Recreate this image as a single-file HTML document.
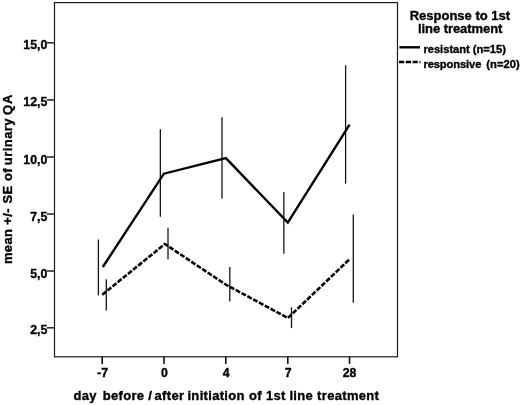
<!DOCTYPE html>
<html>
<head>
<meta charset="utf-8">
<title>Urinary QA by response to 1st line treatment</title>
<style>
html,body{margin:0;padding:0;background:#fff;}
body{width:520px;height:405px;overflow:hidden;}
svg{display:block;}
text{font-family:"Liberation Sans",sans-serif;font-weight:bold;fill:#000;stroke:#000;stroke-width:0.35px;stroke-linejoin:round;}
.tick{font-size:12.3px;}
.title{font-size:13px;}
.leg{font-size:11.2px;}
.ax{stroke:#1a1a1a;stroke-width:1.2;fill:none;}
.eb{stroke:#151515;stroke-width:1.3;fill:none;}
.ln{stroke:#000;stroke-width:2.4;fill:none;stroke-linejoin:miter;stroke-linecap:butt;}
</style>
</head>
<body>
<svg width="520" height="405" viewBox="0 0 520 405">
<rect x="0" y="0" width="520" height="405" fill="#ffffff"/>

<!-- plot frame -->
<rect class="ax" x="54.5" y="2.6" width="343" height="354.2"/>

<!-- y ticks -->
<g class="ax" style="stroke-width:1.45">
<line x1="47" y1="42.8" x2="54.5" y2="42.8"/>
<line x1="47" y1="99.9" x2="54.5" y2="99.9"/>
<line x1="47" y1="157.0" x2="54.5" y2="157.0"/>
<line x1="47" y1="214.0" x2="54.5" y2="214.0"/>
<line x1="47" y1="271.0" x2="54.5" y2="271.0"/>
<line x1="47" y1="327.8" x2="54.5" y2="327.8"/>
</g>
<g class="tick" text-anchor="end">
<text x="47.3" y="49.3">15,0</text>
<text x="47.3" y="106.4">12,5</text>
<text x="47.3" y="163.5">10,0</text>
<text x="47.3" y="220.5">7,5</text>
<text x="47.3" y="277.5">5,0</text>
<text x="47.3" y="334.3">2,5</text>
</g>

<!-- x ticks -->
<g class="ax" style="stroke-width:1.6;stroke:#111">
<line x1="102.2" y1="356.8" x2="102.2" y2="363.9"/>
<line x1="164" y1="356.8" x2="164" y2="363.9"/>
<line x1="225.8" y1="356.8" x2="225.8" y2="363.9"/>
<line x1="287.8" y1="356.8" x2="287.8" y2="363.9"/>
<line x1="349.5" y1="356.8" x2="349.5" y2="363.9"/>
</g>
<g class="tick" text-anchor="middle">
<text x="102.5" y="376.9">-7</text>
<text x="164.3" y="376.9">0</text>
<text x="226.1" y="376.9">4</text>
<text x="288.1" y="376.9">7</text>
<text x="349.6" y="376.9">28</text>
</g>

<!-- axis titles -->
<text class="title" x="73.5" y="400.3" style="letter-spacing:0.315px" dx="0 0 0 0 1.9 0 0 0 0 0 0 0 0 -1.6 0 0 0 0 0 -0.85 0 0 0 0 0 0 0 0 0 0 0.2 0 0 0.15 0 0 0 -0.3 0 0 0 0 0.1 0 0 0 0 0 0 0 0">day before / after initiation of 1st line treatment</text>
<text class="title" transform="translate(12.3 264.1) rotate(-90)" x="0" y="0" style="letter-spacing:0.345px" dx="0 0 0 0 0 0 0 0 0 0.8 0 0 0.3 0 0 -1.1 0.1 0.1 0.1 0.1 0.1 0.1 0 -0.9 0.6">mean +/- SE of urinary QA</text>

<!-- error bars: resistant -->
<g class="eb">
<line x1="98.4" y1="239.5" x2="98.4" y2="295.4"/>
<line x1="160.35" y1="129.2" x2="160.35" y2="216.8"/>
<line x1="222" y1="117.3" x2="222" y2="198.5"/>
<line x1="283.85" y1="191.9" x2="283.85" y2="253.8"/>
<line x1="345.6" y1="65.2" x2="345.6" y2="183.6"/>
</g>
<!-- error bars: responsive -->
<g class="eb">
<line x1="106.3" y1="279.2" x2="106.3" y2="310.6"/>
<line x1="168" y1="227.7" x2="168" y2="259.2"/>
<line x1="229.8" y1="267.1" x2="229.8" y2="301.5"/>
<line x1="291.5" y1="307.2" x2="291.5" y2="328.1"/>
<line x1="353.3" y1="214.6" x2="353.3" y2="302.8"/>
</g>

<!-- series -->
<polyline class="ln" points="102.8,267 163.9,173.7 225.9,158.1 287.8,222.6 349.6,124.6"/>
<polyline class="ln" style="stroke-width:2.6" stroke-dasharray="5 1.6" points="102.3,294.7 164.9,244.0 225.8,284.6 287.9,318.0 350.1,258.7"/>

<!-- legend -->
<text class="title" x="459.9" y="20" text-anchor="middle">Response to 1st</text>
<text class="title" x="418" y="32.5" textLength="84.4" lengthAdjust="spacing">line treatment</text>
<line class="ln" x1="399.4" y1="47.3" x2="420" y2="47.3"/>
<line class="ln" x1="399" y1="62" x2="420.5" y2="62" stroke-dasharray="5.2 1.6"/>
<text class="leg" x="423.4" y="52.9" textLength="82.6" lengthAdjust="spacing">resistant (n=15)</text>
<text class="leg" y="67.6"><tspan x="423.4" textLength="61" lengthAdjust="spacing">responsive </tspan><tspan x="486.3" textLength="33.4" lengthAdjust="spacing">(n=20)</tspan></text>
</svg>
</body>
</html>
